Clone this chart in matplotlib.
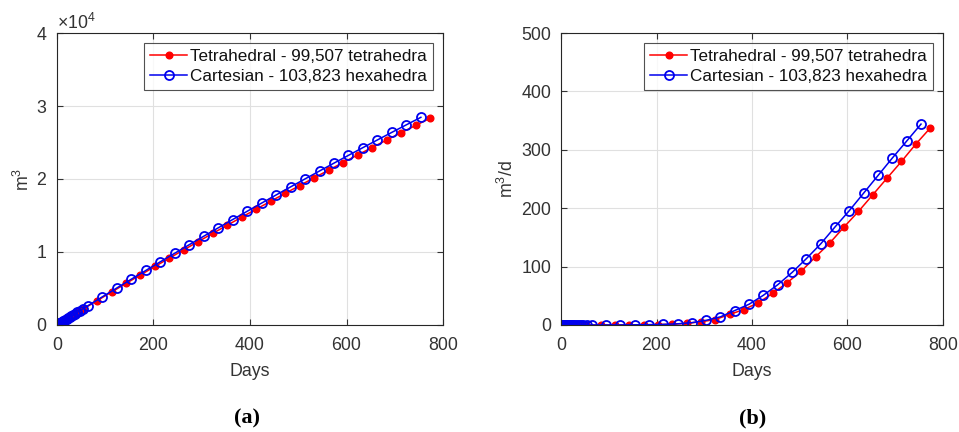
#!/usr/bin/env python3
"""Cumulative volume and rate: tetrahedral vs cartesian grids (MATLAB-style)."""

import matplotlib
matplotlib.use("Agg")
import matplotlib.pyplot as plt
from matplotlib.ticker import ScalarFormatter

plt.rcParams["font.family"] = ["Liberation Sans", "DejaVu Sans"]
plt.rcParams["mathtext.fontset"] = "custom"
plt.rcParams["mathtext.rm"] = "Liberation Sans"
plt.rcParams["mathtext.it"] = "Liberation Sans"

LABEL_TET = "Tetrahedral - 99,507 tetrahedra"
LABEL_CART = "Cartesian - 103,823 hexahedra"

# ---------------------------------------------------------------------------
# Data
# ---------------------------------------------------------------------------
days_tet = [0, 0.5, 1, 2, 3, 4, 5, 6, 8, 10, 12, 14, 17, 20, 23, 26, 30, 34, 38, 43,
            53, 83, 113, 143, 173, 203, 233, 263, 293, 323, 353, 383, 413, 443,
            473, 503, 533, 563, 593, 623, 653, 683, 713, 743, 773]
vol_tet = [0, 20, 41, 81, 121, 162, 202, 243, 324, 405, 486, 567, 688, 810, 931,
           1053, 1215, 1377, 1539, 1741,
           2132, 3327, 4513, 5689, 6857, 8016, 9165, 10306, 11437, 12560, 13674,
           14778, 15874, 16960, 18038, 19107, 20166, 21217, 22258, 23291, 24314,
           25329, 26335, 27331, 28319]
rate_tet = [0, 0, 0, 0, 0, 0, 0, 0, 0, 0, 0, 0, 0, 0, 0, 0, 0, 0, 0, 0,
            0, 0.03, 0.08, 0.2, 0.4, 0.7, 1.4, 2.8, 5.5, 9.4, 18, 26.5, 38, 54,
            72, 92, 116.6, 140.5, 168, 194.5, 223, 251.6, 280, 309.7, 337]

days_cart = [0, 0.5, 1, 2, 3, 4, 5, 6, 8, 10, 12, 14, 17, 20, 23, 26, 30, 34, 38,
             42, 47, 54,
             64, 94, 124, 154, 184, 214, 244, 274, 304, 334, 364, 394, 424, 454,
             484, 514, 544, 574, 604, 634, 664, 694, 724, 754]
vol_cart = [0, 21, 42, 83, 125, 166, 208, 249, 332, 415, 498, 581, 705, 829, 953,
            1077, 1242, 1407, 1571, 1735, 1942, 2232,
            2636, 3857, 5069, 6272, 7467, 8652, 9828, 10996, 12154, 13303, 14444,
            15575, 16697, 17810, 18915, 20010, 21096, 22174, 23242, 24301, 25352,
            26393, 27425, 28448]
rate_cart = [0, 0, 0, 0, 0, 0, 0, 0, 0, 0, 0, 0, 0, 0, 0, 0, 0, 0, 0, 0, 0, 0,
             0, 0.05, 0.1, 0.3, 0.5, 1.0, 2.0, 4.0, 8, 14, 24.8, 35.6, 51, 69,
             90, 113.7, 139, 168, 196, 226, 256, 286, 315, 344]

X_TICKS = [0, 200, 400, 600, 800]
VOL_TICKS = [0, 10000, 20000, 30000, 40000]
RATE_TICKS = [0, 100, 200, 300, 400, 500]

TEXT = "#333333"
FS = 12.8
LEG_FS = 12.3


def style_axes(ax):
    ax.grid(True, color="#e0e0e0", linewidth=0.8)
    ax.set_axisbelow(True)
    for sp in ax.spines.values():
        sp.set_color("#262626")
        sp.set_linewidth(0.8)
    ax.tick_params(direction="in", length=4, width=0.8, colors=TEXT,
                   labelsize=FS, top=True, right=True, labeltop=False,
                   labelright=False)
    ax.tick_params(axis="x", pad=9)
    ax.tick_params(axis="y", pad=7)


def draw(ax, y_tet, y_cart):
    ax.plot(days_tet, y_tet, "-", color="#ff0000", lw=1.1, marker="o",
            ms=4.8, mfc="#ff0000", mec="#ff0000", label=LABEL_TET)
    ax.plot(days_cart, y_cart, "-", color="#0000ee", lw=1.1, marker="o",
            ms=6.5, mfc="none", mec="#0000ee", mew=1.3, label=LABEL_CART)
    leg = ax.legend(loc="upper right", fontsize=LEG_FS, frameon=True, fancybox=False,
                    handlelength=2.2, handletextpad=0.15, borderpad=0.35,
                    labelspacing=0.3, borderaxespad=0.6)
    leg.get_frame().set_edgecolor("#262626")
    leg.get_frame().set_linewidth(0.8)
    for t in leg.get_texts():
        t.set_color("#111111")


def main():
    fig = plt.figure(figsize=(9.59, 4.32), dpi=100)
    ax1 = fig.add_axes([0.0594, 0.2477, 0.4026, 0.6759])
    ax2 = fig.add_axes([0.585, 0.2477, 0.3983, 0.6759])

    # (a) cumulative volume
    style_axes(ax1)
    draw(ax1, vol_tet, vol_cart)
    ax1.set_xlim(0, 800)
    ax1.set_ylim(0, 40000)
    ax1.set_xticks(X_TICKS)
    ax1.set_yticks(VOL_TICKS)
    fmt = ScalarFormatter(useMathText=True)
    fmt.set_powerlimits((0, 0))
    ax1.yaxis.set_major_formatter(fmt)
    ax1.yaxis.get_offset_text().set_fontsize(FS)
    ax1.yaxis.get_offset_text().set_color(TEXT)
    ax1.set_xlabel("Days", fontsize=FS, color=TEXT, labelpad=6)
    ax1.set_ylabel("m$^3$", fontsize=FS, color=TEXT, labelpad=2)

    # (b) rate
    style_axes(ax2)
    draw(ax2, rate_tet, rate_cart)
    ax2.set_xlim(0, 800)
    ax2.set_ylim(0, 500)
    ax2.set_xticks(X_TICKS)
    ax2.set_yticks(RATE_TICKS)
    ax2.set_xlabel("Days", fontsize=FS, color=TEXT, labelpad=6)
    ax2.set_ylabel("m$^3$/d", fontsize=FS, color=TEXT, labelpad=3)

    for x, lab in ((0.258, "(a)"), (0.785, "(b)")):
        fig.text(x, 1 - 418 / 432, lab, ha="center", va="center",
                 fontsize=16, fontweight="bold", family="Liberation Serif")

    fig.savefig("out.png", dpi=100)
    plt.close(fig)


if __name__ == "__main__":
    main()
